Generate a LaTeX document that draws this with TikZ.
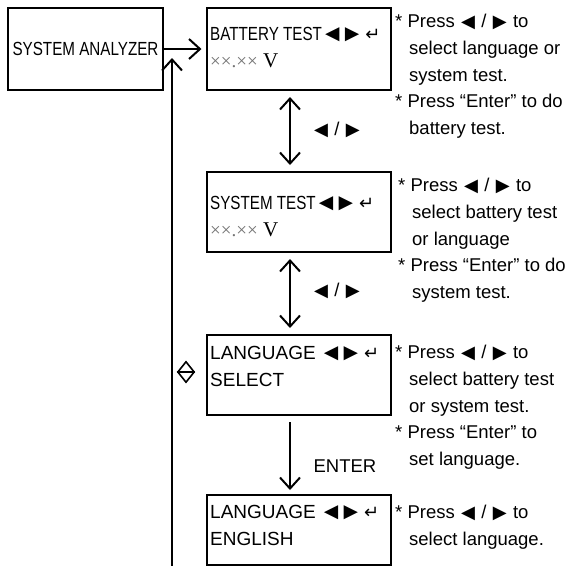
\documentclass[tikz,border=0pt]{standalone}
\usepackage{graphicx}
\usepackage{fontspec}
\setmainfont{Liberation Sans}
\newfontfamily\narrowfont[FakeStretch=0.8]{Liberation Sans}
\newfontfamily\timesfont{Liberation Serif}
\newfontfamily\dejavu{DejaVu Sans}
\usetikzlibrary{arrows.meta,positioning,calc,shapes.geometric}
\newcommand{\tri}[1]{\makebox[0.88em][c]{\raisebox{-0.08em}{\scalebox{1.25}{#1}}}}
\newcommand{\lsel}{\tri{◄}}
\newcommand{\rsel}{\tri{►}}
\newcommand{\pair}{\hspace{2pt}\lsel\hspace{3pt}\rsel}
\newcommand{\enterkey}{\hspace{5pt}{\dejavu\fontsize{18}{18}\selectfont ↵}}
\newcommand{\volts}{{\timesfont\color{black!55}××.××}\ {\timesfont\fontsize{21}{27}\selectfont V}}
\newcommand{\ind}{\hspace*{14pt}}
\tikzstyle{screen}=[draw,line width=2pt,minimum width=184pt,inner sep=0pt]
\tikzstyle{lcd}=[font=\fontsize{19}{27}\selectfont,align=left,inner sep=0pt,anchor=north west]
\tikzstyle{note}=[font=\fontsize{18.5}{26.6}\selectfont,align=left,inner sep=0pt,anchor=north west]
\tikzstyle{keys}=[font=\fontsize{18.5}{20}\selectfont,inner sep=0pt]
\tikzstyle{flow}=[line width=2pt,-{Straight Barb[length=11pt,width=20pt]}]
\tikzstyle{both}=[line width=2pt,{Straight Barb[length=11pt,width=20pt]}-{Straight Barb[length=11pt,width=20pt]}]

\begin{document}
\begin{tikzpicture}[x=1pt,y=-1pt]
\useasboundingbox (0,0) rectangle (565,566);
\node [screen,minimum width=155pt,minimum height=82pt,font=\narrowfont\fontsize{19}{23}\selectfont] (sa) at (85.5,49) {SYSTEM ANALYZER};
\node [screen,minimum height=82pt] (bat) at (298.5,49) {};
\node [screen,minimum height=80pt] (sys) at (298.5,212) {};
\node [screen,minimum height=80pt] (sel) at (298.5,375) {};
\node [screen,minimum height=70pt] (eng) at (298.5,530) {};

\node [lcd] (battxt) at (210,21) {\strut{\narrowfont BATTERY TEST}\pair\enterkey\\\volts};
\node [lcd] (systxt) at (210,190) {\strut{\narrowfont SYSTEM TEST}\pair\enterkey\\\volts};
\node [lcd] (seltxt) at (210,340) {\strut LANGUAGE\hspace{5pt}\pair\enterkey\\SELECT};
\node [lcd] (engtxt) at (210,499) {\strut LANGUAGE\hspace{5pt}\pair\enterkey\\ENGLISH};

\node [note] (batnote) at (395,9) {\strut* Press \lsel\ / \rsel\ to\\\ind select language or\\\ind system test.\\* Press “Enter” to do\\\ind battery test.};
\node [note] (sysnote) at (398,173) {\strut* Press \lsel\ / \rsel\ to\\\ind select battery test\\\ind or language\\* Press “Enter” to do\\\ind system test.};
\node [note] (selnote) at (395,340) {\strut* Press \lsel\ / \rsel\ to\\\ind select battery test\\\ind or system test.\\* Press “Enter” to\\\ind set language.};
\node [note] (engnote) at (395,500) {\strut* Press \lsel\ / \rsel\ to\\\ind select language.};

\node [keys] (key1) at (337,130) {\lsel\ / \rsel};
\node [keys] (key2) at (337,291) {\lsel\ / \rsel};
\node [keys] (enter) at (345,466) {ENTER};

\node [draw,diamond,line width=1.6pt,minimum width=17pt,minimum height=21pt,inner sep=0pt] (dia) at (186,372) {};
\draw [line width=1.6pt] (dia.west) -- (dia.east);

\coordinate (join) at (172,49);
\coordinate (bottom) at (172,566);
\draw [flow,shorten >=4pt] (sa.east) -- (sa.east -| bat.west);
\draw [flow] (bottom) -- ($(join)+(0,9)$);
\draw [both] ([xshift=-8.5pt,yshift=-6pt]bat.south) -- ([xshift=-8.5pt,yshift=6pt]sys.north);
\draw [both] ([xshift=-8.5pt,yshift=-6pt]sys.south) -- ([xshift=-8.5pt,yshift=6pt]sel.north);
\draw [flow] ([xshift=-8.5pt,yshift=-6pt]sel.south) -- ([xshift=-8.5pt,yshift=4pt]eng.north);
\end{tikzpicture}
\end{document}
